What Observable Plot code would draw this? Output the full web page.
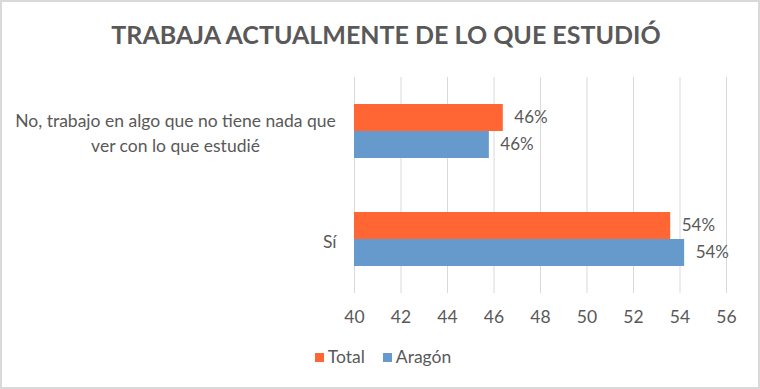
<!DOCTYPE html>
<html><head><meta charset="utf-8">
<script src="https://cdn.jsdelivr.net/npm/d3@7"></script>
<script src="https://cdn.jsdelivr.net/npm/@observablehq/plot@0.6"></script>
<style>
body{margin:0;background:#fff;}
#wrap{position:relative;width:760px;height:389px;overflow:hidden;font-family:Lato,"Open Sans",sans-serif;color:#595959;background:#fff;}
#frame{position:absolute;left:0;top:0;right:0;bottom:0;border:2px solid #d9d9d9;pointer-events:none;}
#title{position:absolute;left:12px;right:0;top:19px;text-align:center;font-weight:bold;font-size:25px;line-height:30px;}
#chart{position:absolute;left:0;top:0;}
#legend{position:absolute;left:6px;right:0;top:347px;text-align:center;font-size:17.5px;line-height:20px;}
#legend .item{display:inline-block;margin:0 9px;}
#legend .sw{display:inline-block;width:9px;height:9px;margin-right:4px;vertical-align:1px;}
</style></head><body>
<div id="wrap"><div id="chart"></div><div id="title"></div><div id="legend"></div><div id="frame"></div></div>
<script>
const titleText = "TRABAJA ACTUALMENTE DE LO QUE ESTUDIÓ";
const categories = ["No, trabajo en algo que no tiene nada que\nver con lo que estudié", "Sí"];
const series = ["Total", "Aragón"];
const totalValues = [46.4, 53.6];
const aragonValues = [45.8, 54.2];
const xDomain = [40, 56];
const xTicks = [40, 42, 44, 46, 48, 50, 52, 54, 56];
const colors = ["#FF6633", "#6699CC"];

document.getElementById("title").textContent = titleText;

const data = [];
categories.forEach((c, i) => {
  data.push({category: c, series: series[0], value: totalValues[i]});
  data.push({category: c, series: series[1], value: aragonValues[i]});
});

const chart = Plot.plot({
  width: 760,
  height: 330,
  marginLeft: 354,
  marginRight: 34,
  marginTop: 77,
  marginBottom: 37,
  style: {fontFamily: "Lato, 'Open Sans', sans-serif", fontSize: "17.5px", color: "#595959", background: "transparent"},
  x: {domain: xDomain, ticks: xTicks, tickSize: 0, tickPadding: 17, label: null},
  y: {domain: series, axis: null, paddingInner: 0, paddingOuter: 0.964},
  fy: {domain: categories, axis: null, padding: 0},
  color: {domain: series, range: colors},
  marks: [
    Plot.gridX(xTicks, {stroke: "#d9d9d9", strokeOpacity: 1}),
    Plot.barX(data, {fy: "category", y: "series", x1: () => xDomain[0], x2: "value", fill: "series"}),
    Plot.text(data, {fy: "category", y: "series", x: "value", text: d => Math.round(d.value) + "%", textAnchor: "start", dx: 11, fill: "#595959", fontSize: 17}),
    Plot.text(categories.slice(0, 1), {fy: d => d, frameAnchor: "left", textAnchor: "middle", dx: -179, text: d => d, fill: "#595959", fontSize: 17.5, lineHeight: 1.4}),
    Plot.text(categories.slice(1), {fy: d => d, frameAnchor: "left", textAnchor: "end", dx: -18, dy: 3, text: d => d, fill: "#595959", fontSize: 17.5})
  ]
});
document.getElementById("chart").appendChild(chart);

const legend = document.getElementById("legend");
series.forEach((s, i) => {
  const item = document.createElement("span");
  item.className = "item";
  const sw = document.createElement("span");
  sw.className = "sw";
  sw.style.background = colors[i];
  item.appendChild(sw);
  item.appendChild(document.createTextNode(s));
  legend.appendChild(item);
});
</script>
</body></html>
